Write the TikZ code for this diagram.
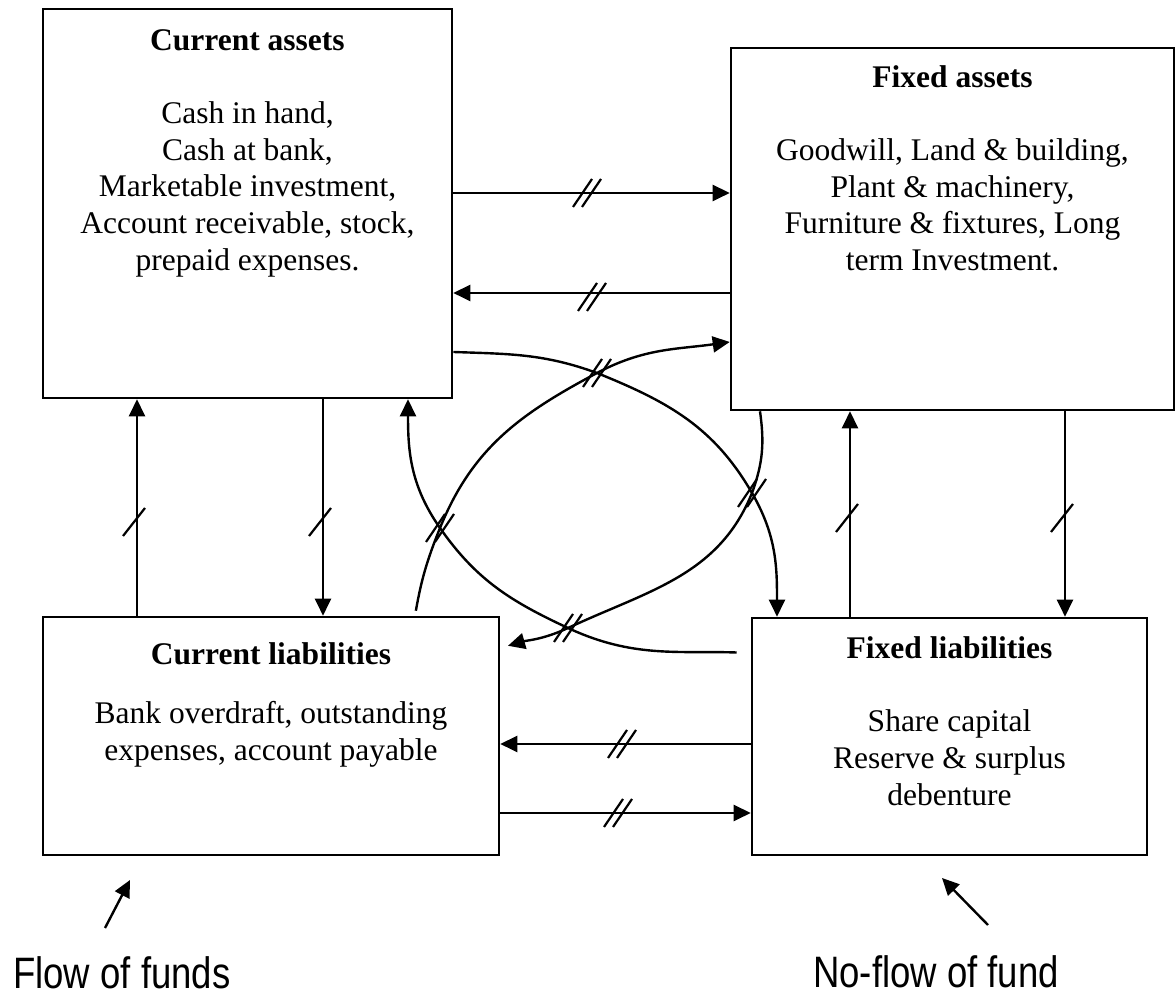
\documentclass[tikz,border=0pt]{standalone}
\usepackage{fontspec}
\setmainfont{Liberation Serif}
\newfontfamily\labfont[FakeStretch=0.83]{Liberation Sans}
\usetikzlibrary{arrows.meta}
\tikzset{
  box/.style={draw, line width=2.6pt, rectangle, inner sep=0pt},
  txt/.style={align=center, inner sep=0pt, anchor=north, font=\fontsize{31.5}{36.7}\selectfont},
  arr/.style={line width=2.4pt, -{Triangle[length=17pt,width=16pt]}},
  crv/.style={line width=2.4pt, -{Triangle[length=17pt,width=16pt]}},
  lab/.style={inner sep=0pt, anchor=base west, font=\labfont\fontsize{44}{50}\selectfont},
  stick/.pic={\draw[line width=2.2pt] (-11,-14) -- (11,14);},
  dtick/.pic={\draw[line width=2.2pt] (-14,-14) -- (5,14); \draw[line width=2.2pt] (-5,-14) -- (14,14);}
}
\begin{document}
\begin{tikzpicture}[x=1pt,y=1pt]
\useasboundingbox (0,0) rectangle (1176,998);
% boxes
\node[box, minimum width=409pt, minimum height=389pt] (ca) at (247.5,794.5) {};
\node[box, minimum width=443pt, minimum height=362pt] (fa) at (952.5,769) {};
\node[box, minimum width=456pt, minimum height=238pt] (cl) at (271,262) {};
\node[box, minimum width=395pt, minimum height=237pt] (fl) at (949.5,261.5) {};
% texts
\node[txt] (catext) at (247.5,971) {\rule{0pt}{23pt}\textbf{Current assets}\\[36.7pt]
Cash in hand,\\Cash at bank,\\Marketable investment,\\Account receivable, stock,\\prepaid expenses.};
\node[txt] (fatext) at (952.5,934) {\rule{0pt}{23pt}\textbf{Fixed assets}\\[36.7pt]
Goodwill, Land \& building,\\Plant \& machinery,\\Furniture \& fixtures, Long\\term Investment.};
\node[txt] (cltext) at (271,357) {\rule{0pt}{23pt}\textbf{Current liabilities}\\[23pt]
Bank overdraft, outstanding\\expenses, account payable};
\node[txt] (fltext) at (949.5,363) {\rule{0pt}{23pt}\textbf{Fixed liabilities}\\[37pt]
Share capital\\Reserve \& surplus\\debenture};
% horizontal connectors
\draw[arr] (ca.east |- 0,805) -- (fa.west |- 0,805);
\pic at (587,805) {dtick};
\draw[arr] (fa.west |- 0,705) -- (ca.east |- 0,705);
\pic at (592,701) {dtick};
\draw[arr] (fl.west |- 0,254) -- (cl.east |- 0,254);
\pic at (622,254) {dtick};
\draw[arr] (cl.east |- 0,185) -- (fl.west |- 0,185);
\pic at (618,185) {dtick};
% vertical connectors
\draw[arr] (cl.north -| 137,0) -- (ca.south -| 137,0);
\pic at (134,476) {stick};
\draw[arr] (ca.south -| 323,0) -- (cl.north -| 323,0);
\pic at (320,476) {stick};
\draw[arr] (fl.north -| 850,0) -- (fa.south -| 850,0);
\pic at (847,480) {stick};
\draw[arr] (fa.south -| 1065,0) -- (fl.north -| 1065,0);
\pic at (1062,480) {stick};
% crossing curves
\coordinate (x1) at (597,625);
\coordinate (x2) at (752,505);
\coordinate (x3) at (440,470);
\coordinate (x4) at (568,370);
\draw[crv] (ca.east |- 0,646) to[out=-2,in=160] (x1) to[out=-22,in=120] (x2) to[out=-60,in=90] (fl.north -| 777,0);
\draw[crv, shorten <=5pt] (cl.north -| 415,0) to[out=80,in=-112] (x3) to[out=68,in=-152] (x1) to[out=28,in=188] (fa.west |- 0,656);
\draw[crv, shorten >=8pt] (fa.south -| 760,0) to[out=-82,in=70] (x2) to[out=-112,in=25] (x4) to[out=-155,in=16] (cl.east |- 0,350);
\draw[crv, shorten <=14pt] (fl.west |- 0,345) to[out=178,in=-25] (x4) to[out=155,in=-55] (x3) to[out=125,in=-90] (ca.south -| 408,0);
\pic at (x1) {dtick};
\pic at (x2) {dtick};
\pic at (x3) {dtick};
\pic at (x4) {dtick};
% legend
\coordinate (la) at (105,70);
\coordinate (lb) at (130,118);
\coordinate (ra) at (988,73);
\coordinate (rb) at (942,120);
\draw[arr] (la) -- (lb);
\draw[arr] (ra) -- (rb);
\node[lab] (flow) at (13,9) {Flow of funds};
\node[lab] (noflow) at (813,10) {No-flow of fund};
\end{tikzpicture}
\end{document}
